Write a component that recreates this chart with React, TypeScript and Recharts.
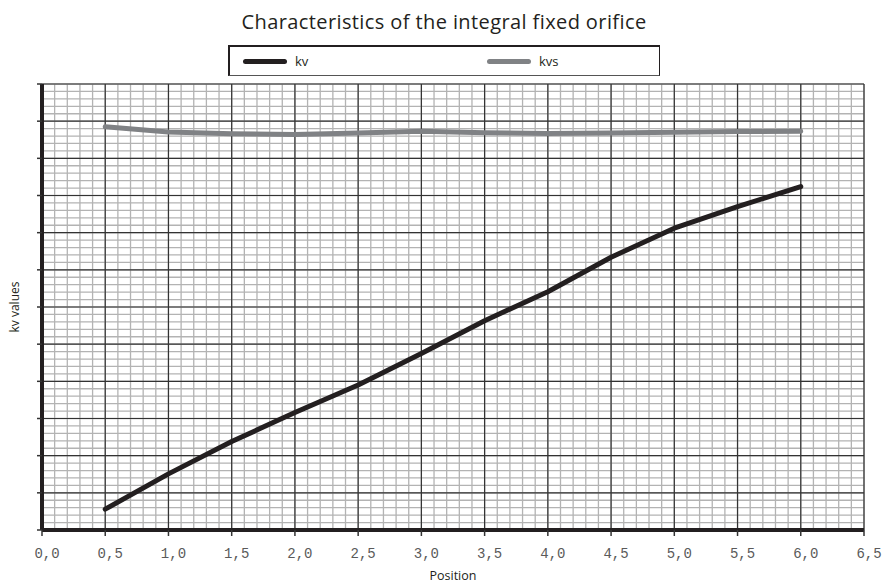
import React from "react";
import { LineChart, Line, XAxis, YAxis, CartesianGrid, Label } from "recharts";

const positions = [0.5, 1.0, 1.5, 2.0, 2.5, 3.0, 3.5, 4.0, 4.5, 5.0, 5.5, 6.0];
const kvValues = [0.56, 1.51, 2.38, 3.16, 3.9, 4.75, 5.63, 6.41, 7.34, 8.12, 8.7, 9.24];
const kvsValues = [10.85, 10.71, 10.66, 10.64, 10.68, 10.73, 10.69, 10.67, 10.68, 10.7, 10.72, 10.73];

const xTicks = [0, 0.5, 1, 1.5, 2, 2.5, 3, 3.5, 4, 4.5, 5, 5.5, 6, 6.5];
const yTicks = [0, 1, 2, 3, 4, 5, 6, 7, 8, 9, 10, 11, 12];

const xMinor: number[] = [];
for (let i = 0; i <= 65; i++) xMinor.push(Math.round(i) / 10);
const yMinor: number[] = [];
for (let i = 0; i <= 60; i++) yMinor.push((i * 2) / 10);

const series = [
  { key: "kv", name: "kv", color: "#231f20" },
  { key: "kvs", name: "kvs", color: "#808285" },
];

const data = positions.map((p, i) => ({ pos: p, kv: kvValues[i], kvs: kvsValues[i] }));

const fmt = (v: number) => v.toFixed(1).replace(".", ",");

const XTick = (props: any) => {
  const { x, y, payload } = props;
  return (
    <text
      x={x + 5}
      y={y}
      dy={20}
      textAnchor="middle"
      fontFamily="'Liberation Mono', 'DejaVu Sans Mono', monospace"
      fontSize={14}
      fill="#5a5a5a"
    >
      {fmt(payload.value)}
    </text>
  );
};

export default function App() {
  return (
    <div style={{ position: "absolute", left: 0, top: 0, width: 883, height: 583, background: "#fff" }}>
      <div
        style={{
          position: "absolute",
          left: 0,
          top: 8,
          width: 888,
          textAlign: "center",
          fontFamily: "'Open Sans', sans-serif",
          fontSize: 20,
          letterSpacing: 0.4,
          color: "#231f20",
          lineHeight: "28px",
        }}
      >
        Characteristics of the integral fixed orifice
      </div>
      <div
        style={{
          position: "absolute",
          left: 228,
          top: 45,
          width: 432,
          height: 31,
          boxSizing: "border-box",
          borderTop: "2px solid #231f20",
          borderLeft: "2px solid #231f20",
          borderRight: "1.5px solid #231f20",
          borderBottom: "1.5px solid #555",
          fontFamily: "'Open Sans', sans-serif",
          fontSize: 13,
          color: "#231f20",
        }}
      >
        {series.map((s, i) => (
          <div
            key={s.key}
            style={{ position: "absolute", left: i === 0 ? 13 : 257, top: 6, display: "flex", alignItems: "center" }}
          >
            <div style={{ width: 44, height: 5, borderRadius: 3, background: s.color }} />
            <span style={{ marginLeft: 8, lineHeight: "16px" }}>{s.name}</span>
          </div>
        ))}
      </div>
      <LineChart
        width={883}
        height={583}
        data={data}
        margin={{ top: 84, right: 19, bottom: 0, left: 0 }}
        style={{ position: "absolute", left: 0, top: 0 }}
      >
        <CartesianGrid
          stroke="#b3b3b3"
          strokeWidth={1.3}
          verticalValues={xMinor}
          horizontalValues={yMinor}
        />
        <CartesianGrid stroke="#333" strokeWidth={1.2} />
        <XAxis
          dataKey="pos"
          type="number"
          domain={[0, 6.5]}
          ticks={xTicks}
          height={53}
          axisLine={{ stroke: "#231f20", strokeWidth: 4 }}
          tickLine={{ stroke: "#333", strokeWidth: 1.5 }}
          tickSize={6}
          tick={<XTick />}
          interval={0}
        >
          <Label
            value="Position"
            position="insideBottom"
            offset={3}
            style={{ fontFamily: "'Open Sans', sans-serif", fontSize: 12.5, fill: "#231f20" }}
          />
        </XAxis>
        <YAxis
          type="number"
          domain={[0, 12]}
          ticks={yTicks}
          width={42}
          axisLine={{ stroke: "#231f20", strokeWidth: 4 }}
          tickLine={{ stroke: "#333", strokeWidth: 1.5 }}
          tickSize={5}
          tickFormatter={() => ""}
          interval={0}
        >
          <Label
            value="kv values"
            angle={-90}
            position="insideLeft"
            offset={15}
            style={{ textAnchor: "middle", fontFamily: "'Open Sans', sans-serif", fontSize: 12, fill: "#231f20" }}
          />
        </YAxis>
        {series.map((s) => (
          <Line
            key={s.key}
            dataKey={s.key}
            name={s.name}
            type="linear"
            stroke={s.color}
            strokeWidth={5}
            strokeLinecap="round"
            strokeLinejoin="round"
            dot={false}
            activeDot={false}
            isAnimationActive={false}
          />
        ))}
      </LineChart>
    </div>
  );
}
